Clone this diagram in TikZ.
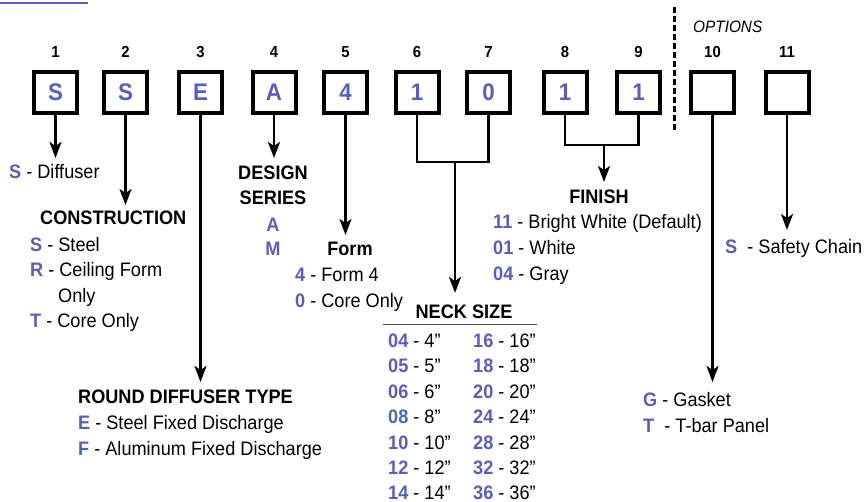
\documentclass[tikz,border=0pt]{standalone}
\usepackage{fontspec}
\setmainfont{Liberation Sans}[FakeStretch=0.93]
\usetikzlibrary{arrows.meta}
\definecolor{codeblue}{RGB}{88,92,200}
\newcommand{\cb}[1]{\textcolor{codeblue}{\textbf{#1}}}
\begin{document}
\begin{tikzpicture}[x=1pt,y=-1pt,
  box/.style={draw,line width=4pt,minimum width=43pt,minimum height=41pt,inner sep=0pt,font=\fontsize{24}{24}\selectfont\bfseries,text=codeblue},
  num/.style={font=\fontsize{16}{16}\selectfont\bfseries,anchor=base,inner sep=0pt},
  txt/.style={font=\fontsize{19.5}{19.5}\selectfont,anchor=base west,inner sep=0pt},
  head/.style={font=\fontsize{19.5}{19.5}\selectfont\bfseries,anchor=base,inner sep=0pt},
  conn/.style={line width=2.3pt},
  arr/.style={conn,-{Stealth[length=16pt,width=12pt,inset=4pt]}},
]
\useasboundingbox (0,0) rectangle (865,502);
% partial heading underline
\draw[codeblue,line width=2pt] (0,3) -- (88,3);

% code boxes
\foreach \i/\x/\t in {1/55.5/S,2/125.5/S,3/200.5/E,4/274/A,5/345.5/4,6/417/1,7/488.5/0,8/565/1,9/638.5/1,10/712.5/{},11/787/{}}{
  \node[box] (b\i) at (\x,92.5) {\t};
  \node[num] (n\i) at (\x,57.5) {\i};
}
\node[font=\fontsize{16.5}{16.5}\selectfont\itshape,anchor=base west,inner sep=0pt] (opt) at (693,33) {OPTIONS};
\coordinate (d1) at (674,7);
\coordinate (d2) at (674,130);
\draw[line width=3pt,dash pattern=on 6pt off 3pt] (d1) -- (d2);

% arrow end points
\coordinate (a1) at (55.5,158);
\coordinate (a2) at (125.5,205);
\coordinate (a3) at (200.5,382);
\coordinate (a4) at (274,158);
\coordinate (a5) at (345.5,235);
\coordinate (j67) at (455,162);
\coordinate (a67) at (455,293);
\coordinate (j89) at (604,145);
\coordinate (a89) at (604,182);
\coordinate (a10) at (712.5,382);
\coordinate (a11) at (787,230);

\draw[arr] (b1.south) -- (a1);
\draw[arr] (b2.south) -- (a2);
\draw[arr] (b3.south) -- (a3);
\draw[arr] (b4.south) -- (a4);
\draw[arr] (b5.south) -- (a5);
\draw[conn] (b6.south) -- (b6.south |- j67) -- (b7.south |- j67) -- (b7.south);
\draw[arr] (j67) -- (a67);
\draw[conn] (b8.south) -- (b8.south |- j89) -- (b9.south |- j89) -- (b9.south);
\draw[arr] (j89) -- (a89);
\draw[arr] (b10.south) -- (a10);
\draw[arr] (b11.south) -- (a11);

% position 1
\node[txt] (t1) at (9,178.5) {\cb{S} - Diffuser};
% construction
\node[txt,font=\fontsize{19.5}{19.5}\selectfont\bfseries] (h2) at (40,225) {CONSTRUCTION};
\node[txt] (t2a) at (30,251.5) {\cb{S} - Steel};
\node[txt] (t2b) at (30,277) {\cb{R} - Ceiling Form};
\node[txt] (t2c) at (58,302.5) {Only};
\node[txt] (t2d) at (30,328) {\cb{T} - Core Only};
% design series
\node[head] (h4a) at (273,180) {DESIGN};
\node[head] (h4b) at (273,205) {SERIES};
\node[head,text=codeblue] (t4a) at (273,231.5) {A};
\node[head,text=codeblue] (t4b) at (273,255.5) {M};
% form
\node[head] (h5) at (350,256) {Form};
\node[txt] (t5a) at (295,282) {\cb{4} - Form 4};
\node[txt] (t5b) at (295,308) {\cb{0} - Core Only};
% neck size
\node[head] (h67) at (464,319) {NECK SIZE};
\coordinate (l1) at (383,324.5);
\coordinate (l2) at (537,324.5);
\draw[line width=1.5pt,black!70] (l1) -- (l2);
\node[txt] (s04) at (388,347.5) {\cb{04} - 4”};
\node[txt] (s05) at (388,373) {\cb{05} - 5”};
\node[txt] (s06) at (388,398.5) {\cb{06} - 6”};
\node[txt] (s08) at (388,424) {\cb{08} - 8”};
\node[txt] (s10) at (388,449.5) {\cb{10} - 10”};
\node[txt] (s12) at (388,475) {\cb{12} - 12”};
\node[txt] (s14) at (388,499.5) {\cb{14} - 14”};
\node[txt] (s16) at (473,347.5) {\cb{16} - 16”};
\node[txt] (s18) at (473,373) {\cb{18} - 18”};
\node[txt] (s20) at (473,398.5) {\cb{20} - 20”};
\node[txt] (s24) at (473,424) {\cb{24} - 24”};
\node[txt] (s28) at (473,449.5) {\cb{28} - 28”};
\node[txt] (s32) at (473,475) {\cb{32} - 32”};
\node[txt] (s36) at (473,499.5) {\cb{36} - 36”};
% finish
\node[head] (h89) at (599,204) {FINISH};
\node[txt] (f11) at (493,229) {\cb{11} - Bright White (Default)};
\node[txt] (f01) at (493,255) {\cb{01} - White};
\node[txt] (f04) at (493,281) {\cb{04} - Gray};
% option 11
\node[txt] (o11) at (725,254) {\cb{S}\ \ - Safety Chain};
% round diffuser type
\node[txt,font=\fontsize{19.5}{19.5}\selectfont\bfseries] (h3) at (78,404) {ROUND DIFFUSER TYPE};
\node[txt] (t3a) at (78,430) {\cb{E} - Steel Fixed Discharge};
\node[txt] (t3b) at (78,455) {\cb{F} - Aluminum Fixed Discharge};
% option 10
\node[txt] (o10a) at (643,407) {\cb{G} - Gasket};
\node[txt] (o10b) at (643,432) {\cb{T}\ \ - T-bar Panel};
\end{tikzpicture}
\end{document}
